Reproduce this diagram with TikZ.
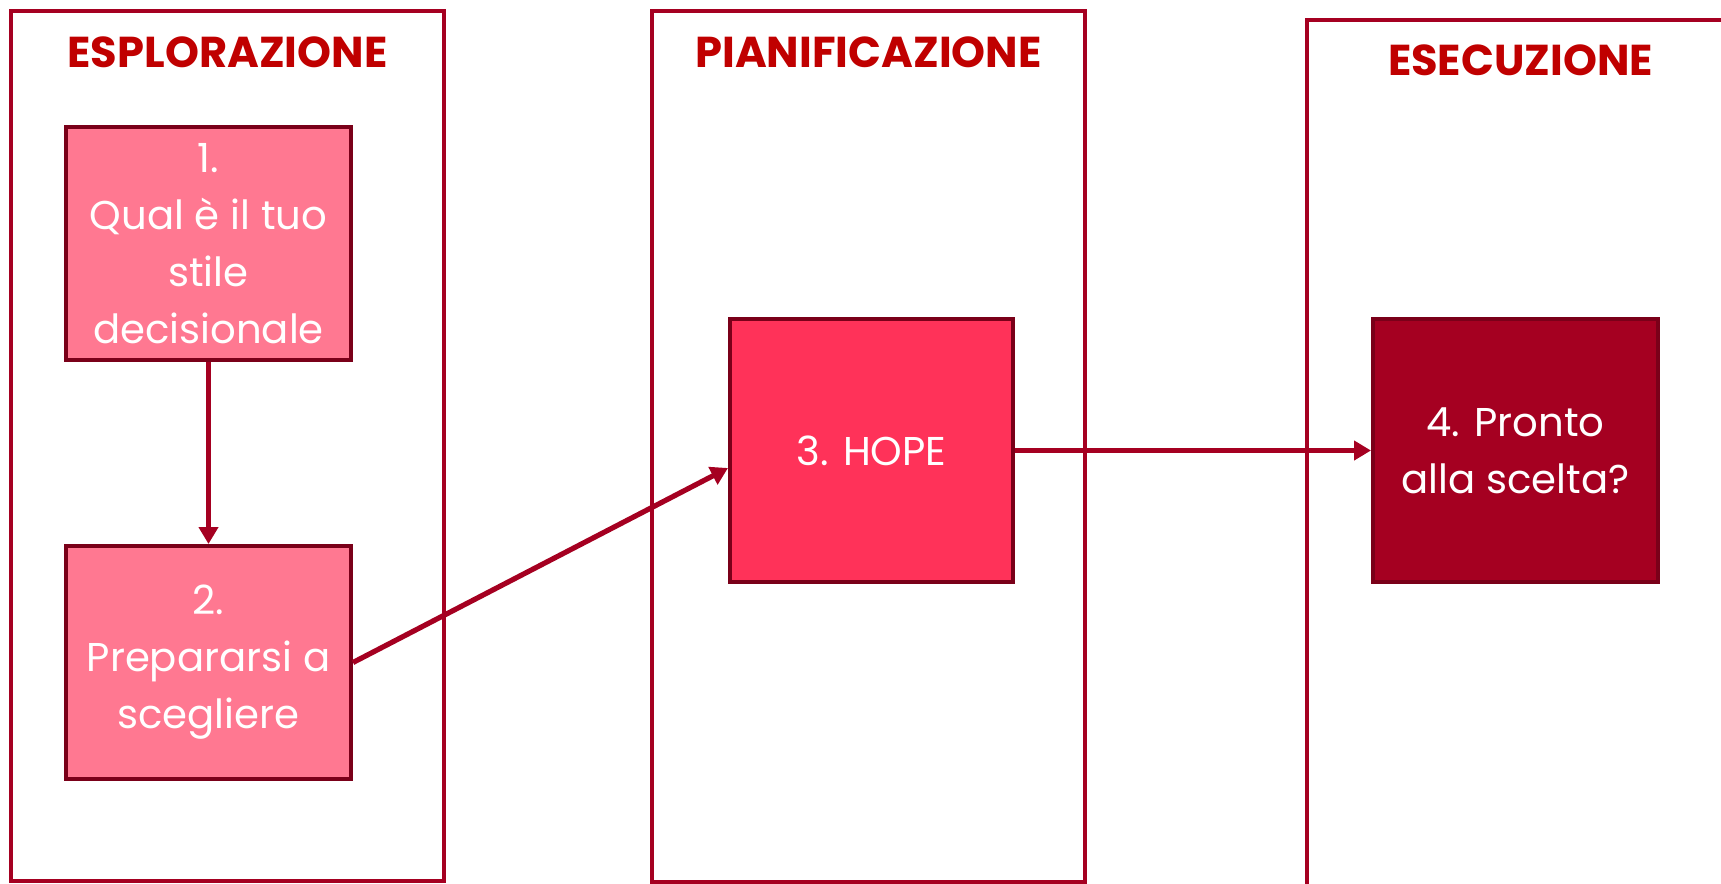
\documentclass[tikz,border=0pt]{standalone}
\usepackage{fontspec}
\setmainfont{Poppins}
\usetikzlibrary{arrows.meta,calc}
\definecolor{lanered}{HTML}{A50021}
\definecolor{boxborder}{HTML}{7A0019}
\definecolor{pinkfill}{HTML}{FF7891}
\definecolor{hopefill}{HTML}{FF3259}
\definecolor{darkfill}{HTML}{A50021}
\definecolor{headred}{HTML}{C00000}
\tikzset{
  lane/.style={draw=lanered, line width=1.75pt},
  lanehead/.style={anchor=base, text=headred, inner sep=0pt,
    font=\fontsize{21.6pt}{25pt}\selectfont\bfseries},
  stepbox/.style={draw=boxborder, line width=2pt, inner sep=0pt, align=center,
    text=white, font=\fontsize{20.1pt}{28.5pt}\selectfont},
  flow/.style={draw=lanered, line width=2.6pt,
    -{Triangle[length=8.5pt,width=9.5pt]}}
}
\begin{document}
\begin{tikzpicture}[x=0.5pt,y=-0.5pt]
\useasboundingbox (0,0) rectangle (1721,884);
\clip (0,0) rectangle (1721,884);
\fill[white] (0,0) rectangle (1721,884);
% lanes
\draw[lane] (11,11) rectangle (444,881);
\draw[lane] (652,11) rectangle (1085,882);
\draw[lane] (1307,20) rectangle (1734,900);
% headings
\node[lanehead] (h1) at (227.5,67) {ESPLORAZIONE};
\node[lanehead] (h2) at (868.5,67) {PIANIFICAZIONE};
\node[lanehead] (h3) at (1520.5,75) {ESECUZIONE};
% boxes
\node[stepbox, fill=pinkfill, minimum width=142.5pt, minimum height=116.5pt]
  (b1) at (208.5,243.5) {1.\\Qual è il tuo\\stile\\decisionale};
\node[stepbox, fill=pinkfill, minimum width=142.5pt, minimum height=116.5pt]
  (b2) at (208.5,662.5) {2.\\Prepararsi a\\scegliere};
\node[stepbox, fill=hopefill, minimum width=141.5pt, minimum height=131.5pt]
  (b3) at (871.5,450.5) {3. HOPE};
\node[stepbox, fill=darkfill, minimum width=142.5pt, minimum height=131.5pt]
  (b4) at (1515.5,450.5) {4. Pronto\\alla scelta?};
% connectors
\draw[flow] (b1.south) -- (b2.north);
\draw[flow] (b2.east) -- ($(b3.west)+(0,17.5)$);
\draw[flow] (b3.east) -- (b4.west);
\end{tikzpicture}
\end{document}
